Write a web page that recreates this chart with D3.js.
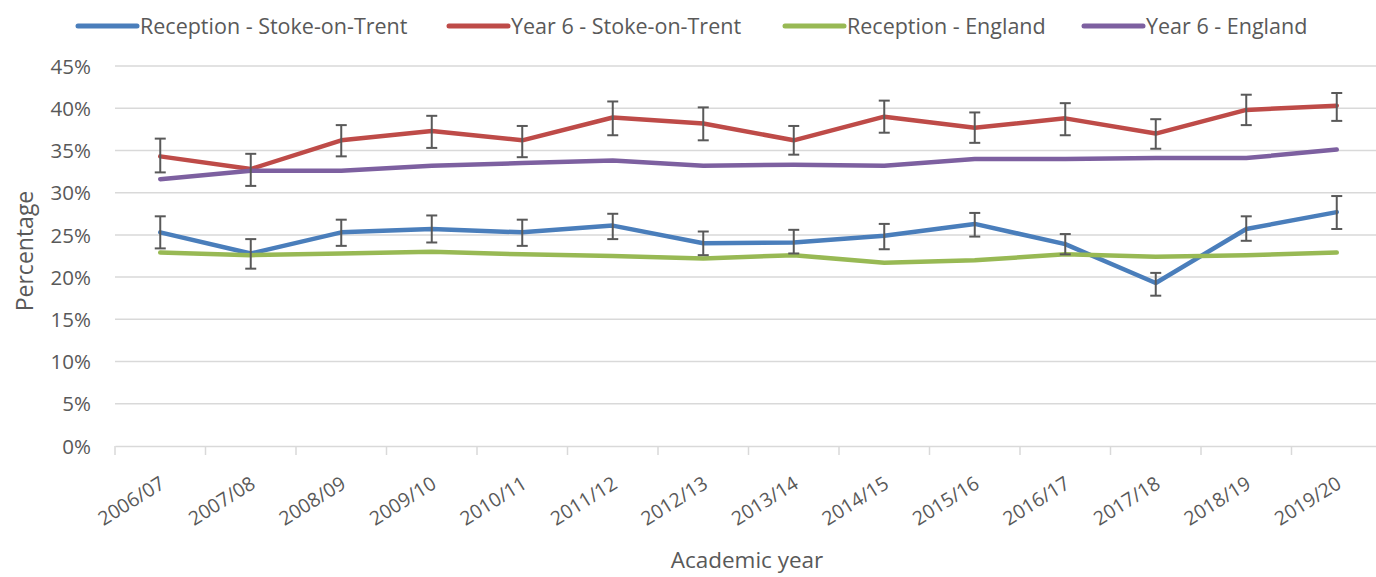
<!DOCTYPE html>
<html><head><meta charset="utf-8">
<script src="https://cdn.jsdelivr.net/npm/d3@7"></script>
<style>body{margin:0;background:#fff;} svg{display:block;}</style>
</head><body>
<svg id="c" width="1376" height="577"></svg>
<script>
const years = ["2006/07","2007/08","2008/09","2009/10","2010/11","2011/12","2012/13","2013/14","2014/15","2015/16","2016/17","2017/18","2018/19","2019/20"];
const recStoke   = [25.3, 22.8, 25.3, 25.7, 25.3, 26.1, 24.0, 24.1, 24.9, 26.3, 23.9, 19.3, 25.7, 27.7];
const recStokeLo = [23.4, 21.0, 23.7, 24.1, 23.7, 24.5, 22.6, 22.8, 23.3, 24.8, 22.7, 17.8, 24.3, 25.7];
const recStokeHi = [27.2, 24.5, 26.8, 27.3, 26.8, 27.5, 25.4, 25.6, 26.3, 27.6, 25.1, 20.5, 27.2, 29.6];
const y6Stoke    = [34.3, 32.8, 36.2, 37.3, 36.2, 38.9, 38.2, 36.2, 39.0, 37.7, 38.8, 37.0, 39.8, 40.3];
const y6StokeLo  = [32.4, 30.8, 34.3, 35.3, 34.2, 36.8, 36.2, 34.5, 37.1, 35.9, 36.8, 35.2, 38.0, 38.5];
const y6StokeHi  = [36.4, 34.6, 38.0, 39.1, 37.9, 40.8, 40.1, 37.9, 40.9, 39.5, 40.6, 38.7, 41.6, 41.8];
const recEng     = [22.9, 22.6, 22.8, 23.0, 22.7, 22.5, 22.2, 22.6, 21.7, 22.0, 22.7, 22.4, 22.6, 22.9];
const y6Eng      = [31.6, 32.6, 32.6, 33.2, 33.5, 33.8, 33.2, 33.3, 33.2, 34.0, 34.0, 34.1, 34.1, 35.1];
const yTicks = [0,5,10,15,20,25,30,35,40,45];
const seriesNames = ["Reception - Stoke-on-Trent","Year 6 - Stoke-on-Trent","Reception - England","Year 6 - England"];
const seriesColors = ["#4A7EBB","#BE4B48","#98B954","#7D60A0"];

const series = [
  {name: seriesNames[0], color: seriesColors[0], values: recStoke, lo: recStokeLo, hi: recStokeHi},
  {name: seriesNames[1], color: seriesColors[1], values: y6Stoke, lo: y6StokeLo, hi: y6StokeHi},
  {name: seriesNames[2], color: seriesColors[2], values: recEng},
  {name: seriesNames[3], color: seriesColors[3], values: y6Eng}
];

const FONT = "'Open Sans', Lato, sans-serif";
const TXT = "#595959";
const svg = d3.select("#c");
const x = d3.scaleBand().domain(years).range([115, 1382]);
const y = d3.scaleLinear().domain([0, 45]).range([446, 66]);

// gridlines
svg.append("g").selectAll("line").data(yTicks.filter(d => d > 0)).join("line")
  .attr("x1", 115).attr("x2", 1382)
  .attr("y1", d => y(d)).attr("y2", d => y(d))
  .attr("stroke", "#D9D9D9").attr("stroke-width", 1.5);

// y axis labels
const yAxis = d3.axisLeft(y).tickValues(yTicks).tickFormat(d => d + "%").tickSize(0).tickPadding(0);
const ga = svg.append("g").attr("transform", "translate(91,0)").call(yAxis);
ga.select(".domain").remove();
ga.selectAll("text").attr("font-family", FONT).attr("font-size", 20.5).attr("fill", TXT).attr("dy", "0.35em");

// x axis
const xAxis = d3.axisBottom(x).tickSize(0).tickFormat("");
const gx = svg.append("g").attr("transform", "translate(0,446)").call(xAxis);
gx.select(".domain").attr("stroke", "#D9D9D9").attr("stroke-width", 1.5);
gx.selectAll(".tick").remove();
svg.append("g").selectAll("line").data(years).join("line")
  .attr("x1", d => x(d)).attr("x2", d => x(d))
  .attr("y1", 446).attr("y2", 455)
  .attr("stroke", "#D9D9D9").attr("stroke-width", 1.5);

svg.append("g").selectAll("text").data(years).join("text")
  .attr("transform", d => `translate(${x(d) + x.bandwidth()/2 + 6},${487}) rotate(-32)`)
  .attr("text-anchor", "end")
  .attr("font-family", FONT).attr("font-size", 19.5).attr("fill", TXT)
  .text(d => d);

// axis titles
svg.append("text").attr("x", 747).attr("y", 568).attr("text-anchor", "middle")
  .attr("font-family", FONT).attr("font-size", 22.5).attr("fill", TXT).text("Academic year");
svg.append("text").attr("transform", "translate(33,251) rotate(-90)").attr("text-anchor", "middle")
  .attr("font-family", FONT).attr("font-size", 23).attr("fill", TXT).text("Percentage");

// lines
const line = d3.line().x((d, i) => x(years[i]) + x.bandwidth()/2).y(d => y(d));
svg.append("g").selectAll("path").data(series).join("path")
  .attr("d", s => line(s.values))
  .attr("fill", "none").attr("stroke", s => s.color).attr("stroke-width", 4.5)
  .attr("stroke-linejoin", "round").attr("stroke-linecap", "round");

// error bars
const eb = svg.append("g").attr("stroke", "#595959").attr("stroke-width", 2);
series.filter(s => s.lo).forEach(s => {
  years.forEach((yr, i) => {
    const cx = x(yr) + x.bandwidth()/2;
    eb.append("line").attr("x1", cx).attr("x2", cx).attr("y1", y(s.lo[i])).attr("y2", y(s.hi[i]));
    eb.append("line").attr("x1", cx - 5.5).attr("x2", cx + 5.5).attr("y1", y(s.lo[i])).attr("y2", y(s.lo[i]));
    eb.append("line").attr("x1", cx - 5.5).attr("x2", cx + 5.5).attr("y1", y(s.hi[i])).attr("y2", y(s.hi[i]));
  });
});

// legend
const legX = [140, 511, 847, 1146];
const lg = svg.append("g").selectAll("g").data(series).join("g")
  .attr("transform", (d, i) => `translate(${legX[i]},26)`);
lg.append("line").attr("x1", -62).attr("x2", -3).attr("y1", 0).attr("y2", 0)
  .attr("stroke", d => d.color).attr("stroke-width", 5).attr("stroke-linecap", "round");
lg.append("text").attr("x", 0).attr("y", 0).attr("dy", "0.36em")
  .attr("font-family", FONT).attr("font-size", 21.5).attr("fill", TXT).text(d => d.name);
</script>
</body></html>
